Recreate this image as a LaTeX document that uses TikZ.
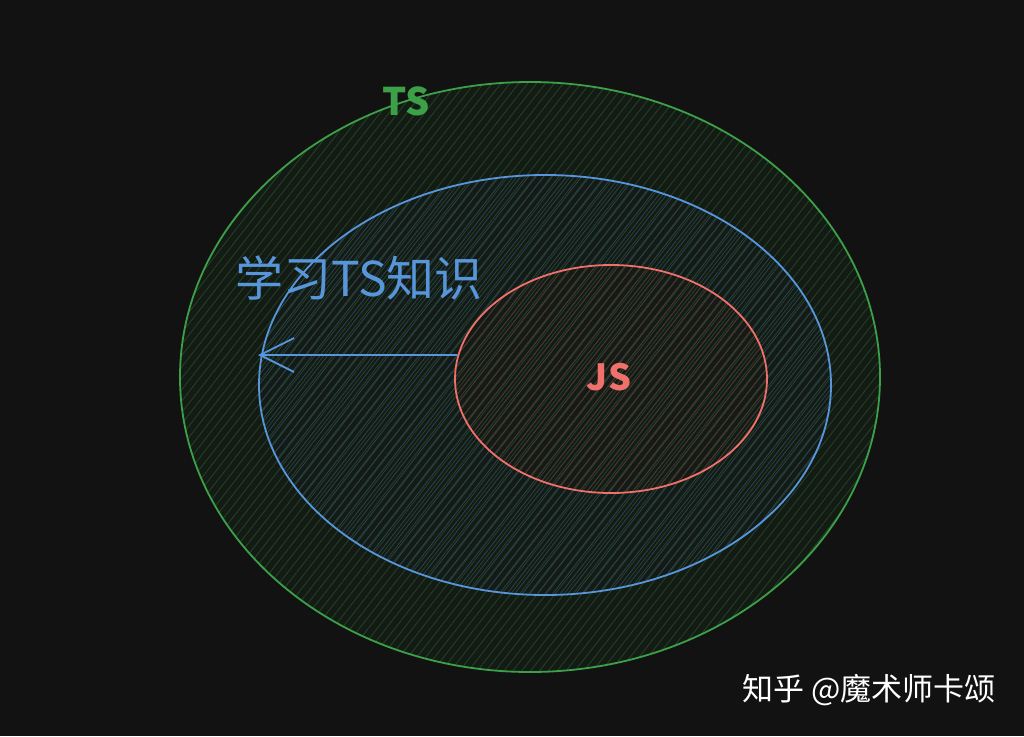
\documentclass[tikz,border=0pt]{standalone}
\usepackage{fontspec}
\newfontfamily\cjk{Noto Sans CJK SC}
\usetikzlibrary{patterns.meta,arrows.meta}
\definecolor{bgdark}{RGB}{18,18,18}
\definecolor{tsgreen}{RGB}{60,160,72}
\definecolor{learnblue}{RGB}{88,150,220}
\definecolor{jsred}{RGB}{240,112,108}
\begin{document}
\begin{tikzpicture}[x=1pt,y=-1pt,line join=round,line cap=round,
    hatch/.style={pattern={Lines[angle=52,distance=#1,line width=0.8pt]}},
    ring/.style={draw=#1,line width=1.8pt},
    tag/.style={font=\cjk,text=#1,inner sep=0pt}]
    \fill[bgdark] (0,0) rectangle (1024,736);
    \useasboundingbox (0,0) rectangle (1024,736);
    % TS
    \fill[tsgreen!6!bgdark] (530,377) ellipse [x radius=350,y radius=295];
    \path[hatch=7pt,pattern color=tsgreen!35!bgdark] (530,377) ellipse [x radius=350,y radius=295];
    % learning TS
    \path[hatch=6pt,pattern color=learnblue!35!bgdark] (545,385) ellipse [x radius=286,y radius=210];
    % JS
    \path[hatch=6pt,pattern color=jsred!30!bgdark] (611,379) ellipse [x radius=156,y radius=114];
    \draw[ring=tsgreen] (530,377) ellipse [x radius=350,y radius=295];
    \draw[ring=learnblue] (545,385) ellipse [x radius=286,y radius=210];
    \draw[ring=jsred] (611,379) ellipse [x radius=156,y radius=114];
    \node[tag=tsgreen,font=\cjk\bfseries\fontsize{38}{38}\selectfont] (ts) at (406,101) {TS};
    \node[tag=learnblue,font=\cjk\fontsize{48}{48}\selectfont] (learn) at (359,278) {学习TS知识};
    \node[tag=jsred,font=\cjk\bfseries\fontsize{36}{36}\selectfont] (js) at (609,377) {JS};
    \coordinate (arrS) at (457,355);
    \coordinate (arrE) at (258,355);
    \draw[learnblue,line width=1.8pt,-{Straight Barb[length=34pt,width=34pt,line width=1.8pt]}] (arrS) -- (arrE);
    \node[tag=white,font=\cjk\fontsize{31}{31}\selectfont] (mark) at (869,690) {知乎 @魔术师卡颂};
\end{tikzpicture}
\end{document}
